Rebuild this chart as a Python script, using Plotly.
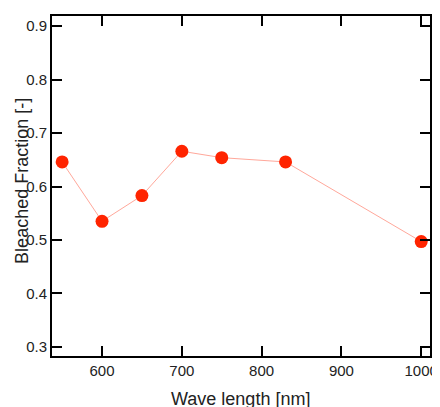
import plotly.graph_objects as go

# bleached fraction vs excitation wavelength
wavelength_nm = [550, 600, 650, 700, 750, 830, 1000]
bleached_fraction = [0.646, 0.535, 0.583, 0.666, 0.654, 0.646, 0.497]

x_ticks = [600, 700, 800, 900, 1000]
y_ticks = [0.3, 0.4, 0.5, 0.6, 0.7, 0.8, 0.9]

FONT = "Liberation Sans, Arial, sans-serif"

fig = go.Figure()
fig.add_trace(go.Scatter(
    x=wavelength_nm,
    y=bleached_fraction,
    mode="lines+markers",
    line=dict(color="rgba(255,60,30,0.45)", width=1),
    marker=dict(color="#ff2400", size=13, line=dict(width=0)),
    showlegend=False,
))

axis_style = dict(
    showline=True, linecolor="black", linewidth=2, mirror="allticks",
    ticks="inside", ticklen=10, tickwidth=2, tickcolor="black",
    showgrid=False, zeroline=False, automargin=False,
    tickfont=dict(family=FONT, size=15, color="#222"),
)

fig.update_xaxes(range=[537.3, 1011], tickvals=x_ticks, **axis_style)
fig.update_yaxes(range=[0.283, 0.919], tickvals=y_ticks, tickformat=".1f", **axis_style)

fig.add_annotation(text="Wave length [nm]", xref="paper", yref="paper",
                   x=0.4995, y=-0.127, xanchor="center", yanchor="middle",
                   showarrow=False, font=dict(family=FONT, size=18, color="#222"))
fig.add_annotation(text="Bleached Fraction [-]", xref="paper", yref="paper",
                   x=-0.0794, y=0.515, xanchor="center", yanchor="middle",
                   textangle=-90, showarrow=False,
                   font=dict(family=FONT, size=18, color="#222"))

# page body keeps an 8px margin, so the figure is sized to fit inside it
fig.update_layout(
    width=432, height=399,
    margin=dict(l=44, r=10, t=7.7, b=51.3),
    plot_bgcolor="white", paper_bgcolor="white",
)

fig.write_html("out.html")
